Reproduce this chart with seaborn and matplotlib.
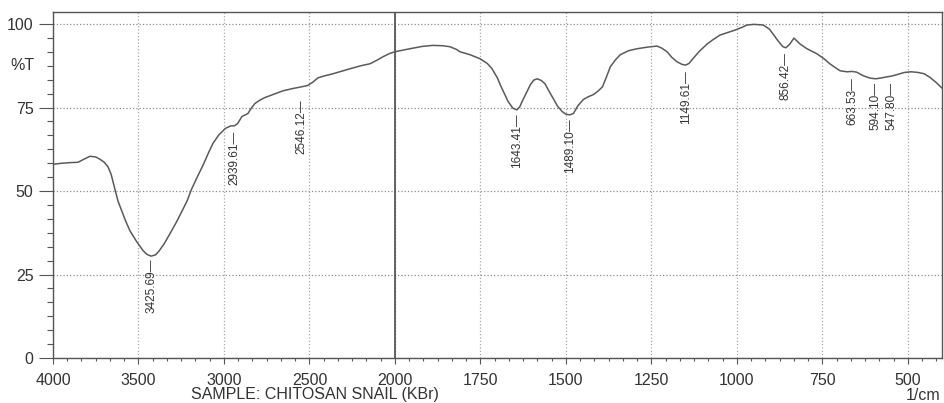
import numpy as np
import pandas as pd
import matplotlib
matplotlib.use("Agg")
import matplotlib.pyplot as plt
from matplotlib.ticker import FixedLocator, NullFormatter
import seaborn as sns

# FTIR transmittance spectrum (wavenumber in 1/cm, transmittance in %T)
wavenumber = [
    4000, 3950, 3900, 3854, 3820, 3784, 3750, 3725, 3700, 3678, 3660, 3640,
    3620, 3600, 3575, 3550, 3510, 3474, 3450, 3425.69, 3400, 3380, 3350, 3316,
    3280, 3250, 3216, 3190, 3158, 3120, 3090, 3064, 3030, 2990, 2960, 2939.61,
    2920, 2895, 2860, 2840, 2819, 2790, 2760, 2713, 2655, 2596, 2546.12, 2510,
    2480, 2450, 2410, 2363, 2310, 2263, 2200, 2146, 2100, 2070, 2030, 2000,
    1956, 1920, 1889, 1860, 1839, 1820, 1810, 1780, 1751, 1730, 1716, 1700,
    1692, 1680, 1669, 1655, 1643.41, 1635, 1628, 1615, 1604, 1594, 1584, 1572,
    1561, 1550, 1537, 1525, 1511, 1500, 1489.10, 1478, 1465, 1449, 1435, 1419,
    1405, 1393, 1382, 1370, 1355, 1341, 1317, 1292, 1260, 1233, 1220, 1204,
    1190, 1175, 1160, 1149.61, 1140, 1131, 1110, 1087, 1070, 1049, 1025, 1005,
    985, 970, 950, 923, 905, 894, 880, 865, 856.42, 845, 833, 815,
    795, 766, 745, 728, 710, 698, 678, 663.53, 650, 630, 610, 594.10,
    575, 560, 547.80, 530, 510, 490, 470, 452, 435, 417, 400,
]
transmittance = [
    58.0, 58.3, 58.5, 58.6, 59.5, 60.4, 60.2, 59.5, 58.6, 57.2, 55.0, 51.0,
    47.0, 44.3, 41.0, 38.1, 34.8, 32.2, 31.0, 30.5, 30.9, 32.0, 34.2, 37.2,
    40.5, 43.5, 47.0, 50.5, 54.0, 58.0, 61.5, 64.3, 66.8, 68.8, 69.5, 69.5,
    70.2, 72.3, 73.2, 74.8, 76.2, 77.2, 78.0, 78.9, 80.0, 80.7, 81.2, 81.6,
    82.6, 83.9, 84.5, 85.1, 85.9, 86.6, 87.5, 88.1, 89.3, 90.2, 91.2, 91.7,
    92.6, 93.3, 93.6, 93.5, 93.2, 92.4, 91.7, 90.8, 89.6, 88.2, 86.6, 83.8,
    81.8, 79.2, 76.8, 74.8, 74.3, 75.2, 76.8, 79.5, 81.8, 83.2, 83.6, 83.1,
    82.1, 80.0, 77.7, 75.5, 73.8, 73.0, 72.8, 73.2, 75.5, 77.4, 78.2, 78.9,
    80.0, 81.2, 84.0, 87.2, 89.3, 90.8, 92.0, 92.6, 93.1, 93.4, 92.8, 91.7,
    90.0, 88.7, 87.9, 87.7, 88.2, 89.3, 91.8, 94.0, 95.3, 96.7, 97.5, 98.2,
    99.0, 99.7, 99.9, 99.7, 98.5, 97.0, 95.0, 93.2, 92.9, 94.0, 95.8, 94.0,
    92.6, 91.1, 89.6, 88.1, 86.8, 86.0, 85.7, 85.8, 85.6, 84.5, 83.8, 83.6,
    83.9, 84.2, 84.4, 84.9, 85.5, 85.7, 85.5, 85.1, 84.0, 82.5, 80.8,
]

# Annotated bands and the %T level at which each label starts
peak_wavenumbers = [3425.69, 2939.61, 2546.12, 1643.41, 1489.10,
                    1149.61, 856.42, 663.53, 594.10, 547.80]
peak_label_y = [29.8, 67.9, 77.4, 73.2, 71.7, 86.3, 91.7, 84.2, 82.7, 82.7]

x_major = [4000, 3500, 3000, 2500, 2000, 1750, 1500, 1250, 1000, 750, 500]
y_major = [0, 25, 50, 75, 100]

df = pd.DataFrame({"wavenumber": wavenumber, "transmittance": transmittance})

sns.set_theme(style="white")
plt.rcParams["font.family"] = ["Liberation Sans", "DejaVu Sans"]

fig = plt.figure(figsize=(9.45, 4.03), dpi=100)
ax = fig.add_axes([53 / 945, 1 - 358 / 403, 889 / 945, 346 / 403])


# Spectrometer-style axis: the scale doubles below 2000 1/cm
def forward(w):
    w = np.asarray(w, dtype=float)
    return np.where(w >= 2000, (w - 2000) / 500.0, (w - 2000) / 250.0)


def inverse(u):
    u = np.asarray(u, dtype=float)
    return np.where(u >= 0, 2000 + 500.0 * u, 2000 + 250.0 * u)


ax.set_xscale("function", functions=(forward, inverse))

line_color = "#5a5a5a"
sns.lineplot(data=df, x="wavenumber", y="transmittance", ax=ax,
             color=line_color, linewidth=1.1, sort=False, estimator=None)

ax.set_xlim(4000, 400)
ax.set_ylim(0, 103.6)

# minor ticks: six divisions per major interval
minor_x = []
for a, b in zip(x_major[:-1], x_major[1:]):
    minor_x += list(np.linspace(a, b, 7)[1:-1])
minor_x += [500 - 250 / 6, 500 - 500 / 6]
minor_y = []
for a, b in zip(y_major[:-1], y_major[1:]):
    minor_y += list(np.linspace(a, b, 7)[1:-1])
minor_y += [100 + 25 / 6]

ax.xaxis.set_major_locator(FixedLocator(x_major))
ax.xaxis.set_minor_locator(FixedLocator(minor_x))
ax.xaxis.set_minor_formatter(NullFormatter())
ax.set_xticklabels([str(v) for v in x_major])
ax.yaxis.set_major_locator(FixedLocator(y_major))
ax.yaxis.set_minor_locator(FixedLocator(minor_y))
ax.set_yticklabels([str(v) for v in y_major])

text_color = "#333333"
ax.tick_params(axis="both", which="both", colors="#555555",
               labelcolor=text_color, labelsize=11.5)
ax.tick_params(axis="y", which="major", direction="out", length=10, width=0.8, pad=4)
ax.tick_params(axis="y", which="minor", direction="out", length=4.5, width=0.8)
ax.tick_params(axis="x", which="major", direction="out", length=4.5, width=0.8, pad=6)
ax.tick_params(axis="x", which="minor", direction="out", length=2.5, width=0.8)
ax.yaxis.set_ticks_position("left")
ax.xaxis.set_ticks_position("bottom")

for spine in ax.spines.values():
    spine.set_color("#555555")
    spine.set_linewidth(1.0)

ax.xaxis.grid(True, which="major", linestyle=":", color="#a8a8a8", linewidth=0.9)
ax.yaxis.grid(True, which="major", linestyle=":", color="#8c8c8c", linewidth=0.9)
ax.axvline(2000, color="#4a4a4a", linewidth=1.2, zorder=1)

ax.set_xlabel("")
ax.set_ylabel("")

# peak annotations: rotated wavenumber with a leader dash
for wn, ty in zip(peak_wavenumbers, peak_label_y):
    ax.text(wn, ty, f"{wn:.2f}\u2014", rotation=90, ha="center", va="top",
            fontsize=8.5, color=text_color)

fig.text(10 / 945, 1 - 65 / 403, "%T", fontsize=11.5, color=text_color,
         ha="left", va="center")
fig.text(315 / 945, 1 - 394 / 403, "SAMPLE: CHITOSAN SNAIL (KBr)",
         fontsize=11.5, color=text_color, ha="center", va="center")
fig.text(940 / 945, 1 - 395 / 403, "1/cm", fontsize=11.5, color=text_color,
         ha="right", va="center")

fig.savefig("out.png", dpi=100, facecolor="white")
